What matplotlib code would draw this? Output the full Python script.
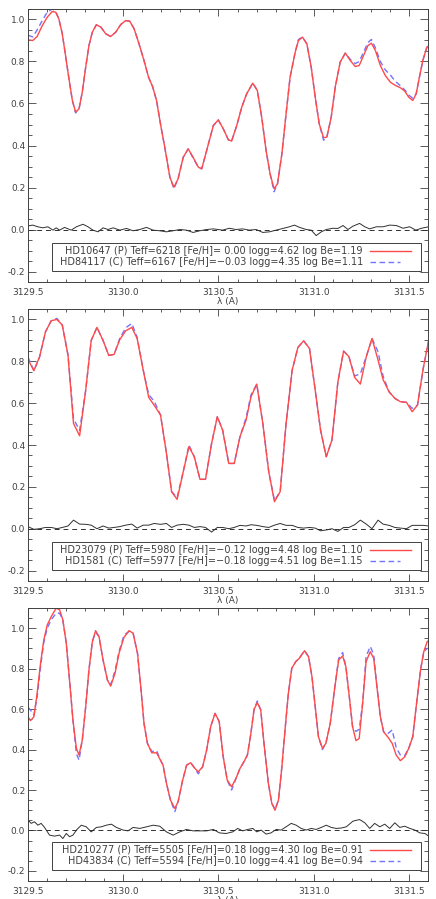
import matplotlib.pyplot as plt
import numpy as np

# ---------------- panel 1 ----------------
wl1 = [3129.500, 3129.525, 3129.548, 3129.575, 3129.601, 3129.627, 3129.645, 3129.662,
       3129.680, 3129.697, 3129.715, 3129.733, 3129.750, 3129.768, 3129.785, 3129.803,
       3129.820, 3129.838, 3129.859, 3129.882, 3129.908, 3129.934, 3129.961, 3129.987,
       3130.013, 3130.034, 3130.057, 3130.083, 3130.109, 3130.133, 3130.154, 3130.175,
       3130.197, 3130.218, 3130.245, 3130.266, 3130.288, 3130.315, 3130.341, 3130.367,
       3130.394, 3130.412, 3130.438, 3130.473, 3130.499, 3130.525, 3130.552, 3130.569,
       3130.596, 3130.622, 3130.648, 3130.680, 3130.704, 3130.727, 3130.750, 3130.771,
       3130.792, 3130.810, 3130.833, 3130.855, 3130.876, 3130.903, 3130.920, 3130.941,
       3130.964, 3130.987, 3131.008, 3131.029, 3131.052, 3131.069, 3131.092, 3131.113,
       3131.139, 3131.166, 3131.192, 3131.218, 3131.239, 3131.262, 3131.285, 3131.303,
       3131.324, 3131.350, 3131.376, 3131.403, 3131.429, 3131.455, 3131.478, 3131.499,
       3131.520, 3131.538, 3131.555, 3131.573, 3131.594, 3131.608]
p1 = [0.903, 0.900, 0.919, 0.971, 1.011, 1.038, 1.035, 1.003,
      0.932, 0.829, 0.718, 0.614, 0.559, 0.575, 0.654, 0.773,
      0.876, 0.940, 0.975, 0.964, 0.932, 0.919, 0.940, 0.976,
      0.995, 0.992, 0.956, 0.884, 0.805, 0.725, 0.681, 0.614,
      0.495, 0.392, 0.249, 0.201, 0.241, 0.344, 0.384, 0.344,
      0.297, 0.289, 0.376, 0.495, 0.522, 0.480, 0.427, 0.421,
      0.495, 0.582, 0.646, 0.697, 0.662, 0.535, 0.376, 0.265,
      0.194, 0.218, 0.360, 0.551, 0.725, 0.845, 0.900, 0.916,
      0.884, 0.773, 0.630, 0.503, 0.437, 0.440, 0.535, 0.678,
      0.797, 0.840, 0.805, 0.776, 0.781, 0.829, 0.876, 0.887,
      0.852, 0.781, 0.733, 0.701, 0.686, 0.675, 0.659, 0.630,
      0.614, 0.646, 0.725, 0.805, 0.868, 0.876]
c1 = [0.925, 0.917, 0.950, 0.995, 1.035, 1.050, 1.040, 1.003,
      0.932, 0.829, 0.718, 0.614, 0.555, 0.575, 0.654, 0.773,
      0.876, 0.940, 0.975, 0.964, 0.932, 0.919, 0.940, 0.976,
      0.995, 0.992, 0.956, 0.884, 0.805, 0.725, 0.681, 0.614,
      0.495, 0.392, 0.249, 0.195, 0.241, 0.344, 0.384, 0.340,
      0.297, 0.289, 0.376, 0.495, 0.522, 0.480, 0.427, 0.421,
      0.495, 0.582, 0.646, 0.697, 0.662, 0.535, 0.376, 0.265,
      0.180, 0.218, 0.360, 0.551, 0.725, 0.845, 0.905, 0.916,
      0.884, 0.773, 0.630, 0.503, 0.425, 0.440, 0.535, 0.678,
      0.797, 0.840, 0.810, 0.790, 0.800, 0.845, 0.890, 0.905,
      0.865, 0.800, 0.760, 0.735, 0.705, 0.685, 0.665, 0.640,
      0.625, 0.646, 0.725, 0.805, 0.868, 0.876]
rwl1 = [3129.500, 3129.525, 3129.552, 3129.578, 3129.604, 3129.631, 3129.648, 3129.666,
        3129.692, 3129.727, 3129.754, 3129.789, 3129.815, 3129.841, 3129.868, 3129.894,
        3129.920, 3129.947, 3129.982, 3130.017, 3130.052, 3130.087, 3130.122, 3130.157,
        3130.192, 3130.227, 3130.262, 3130.297, 3130.332, 3130.367, 3130.402, 3130.438,
        3130.473, 3130.522, 3130.557, 3130.592, 3130.627, 3130.662, 3130.698, 3130.733,
        3130.768, 3130.803, 3130.838, 3130.873, 3130.899, 3130.926, 3130.961, 3130.987,
        3131.013, 3131.040, 3131.066, 3131.101, 3131.127, 3131.154, 3131.180, 3131.206,
        3131.241, 3131.268, 3131.294, 3131.329, 3131.364, 3131.399, 3131.434, 3131.469,
        3131.504, 3131.536, 3131.566, 3131.604]
res1 = [0.017, 0.021, 0.013, 0.008, 0.013, -0.003, 0.008, -0.003,
        0.010, -0.003, 0.013, 0.025, 0.013, -0.003, -0.011, 0.008,
        0.000, 0.008, -0.003, 0.005, -0.006, 0.000, 0.010, -0.003,
        -0.006, -0.011, -0.006, 0.000, -0.003, -0.014, -0.006, 0.000,
        0.003, -0.003, 0.006, 0.000, 0.003, -0.003, 0.000, -0.014,
        -0.011, -0.003, 0.005, 0.013, 0.021, 0.010, 0.000, -0.003,
        -0.029, -0.011, 0.000, 0.006, 0.005, 0.019, 0.000, 0.016,
        0.029, 0.013, 0.003, 0.013, 0.013, 0.021, 0.019, 0.006,
        0.013, -0.003, 0.006, 0.013]

# ---------------- panel 2 ----------------
wl2 = [3129.500, 3129.531, 3129.561, 3129.592, 3129.622, 3129.652, 3129.680, 3129.710,
       3129.739, 3129.771, 3129.803, 3129.832, 3129.862, 3129.894, 3129.924, 3129.952,
       3129.982, 3130.013, 3130.045, 3130.073, 3130.105, 3130.134, 3130.162, 3130.196,
       3130.227, 3130.254, 3130.283, 3130.315, 3130.345, 3130.373, 3130.403, 3130.432,
       3130.464, 3130.494, 3130.522, 3130.554, 3130.583, 3130.613, 3130.645, 3130.671,
       3130.701, 3130.733, 3130.764, 3130.794, 3130.824, 3130.855, 3130.887, 3130.917,
       3130.947, 3130.978, 3131.008, 3131.036, 3131.066, 3131.096, 3131.127, 3131.157,
       3131.185, 3131.215, 3131.245, 3131.276, 3131.306, 3131.338, 3131.364, 3131.396,
       3131.426, 3131.455, 3131.487, 3131.517, 3131.545, 3131.575, 3131.604]
p2 = [0.809, 0.755, 0.822, 0.941, 0.994, 1.000, 0.973, 0.830,
      0.503, 0.444, 0.662, 0.900, 0.962, 0.900, 0.828, 0.833,
      0.904, 0.946, 0.962, 0.909, 0.758, 0.627, 0.591, 0.543,
      0.360, 0.177, 0.140, 0.272, 0.392, 0.344, 0.236, 0.236,
      0.408, 0.535, 0.471, 0.312, 0.312, 0.440, 0.519, 0.631,
      0.691, 0.503, 0.272, 0.129, 0.177, 0.503, 0.758, 0.866,
      0.898, 0.861, 0.662, 0.471, 0.344, 0.424, 0.702, 0.849,
      0.822, 0.723, 0.691, 0.822, 0.909, 0.806, 0.713, 0.654,
      0.623, 0.607, 0.604, 0.559, 0.591, 0.766, 0.901]
c2 = [0.820, 0.755, 0.822, 0.941, 0.994, 1.005, 0.973, 0.830,
      0.525, 0.470, 0.662, 0.900, 0.962, 0.900, 0.828, 0.833,
      0.910, 0.960, 0.981, 0.915, 0.758, 0.640, 0.610, 0.543,
      0.360, 0.177, 0.150, 0.272, 0.400, 0.344, 0.236, 0.236,
      0.408, 0.535, 0.471, 0.312, 0.312, 0.440, 0.530, 0.640,
      0.691, 0.503, 0.272, 0.135, 0.177, 0.503, 0.758, 0.866,
      0.898, 0.861, 0.662, 0.471, 0.344, 0.424, 0.702, 0.849,
      0.822, 0.730, 0.740, 0.822, 0.909, 0.845, 0.730, 0.654,
      0.623, 0.607, 0.604, 0.575, 0.591, 0.766, 0.901]
res2 = [0.010, -0.003, 0.000, 0.006, 0.006, 0.000, 0.006, 0.013,
        0.041, 0.022, 0.021, 0.017, 0.000, 0.013, 0.003, 0.006,
        0.010, 0.017, 0.022, 0.003, 0.017, 0.017, 0.025, 0.021,
        0.025, 0.006, 0.017, 0.021, 0.017, 0.006, 0.010, 0.006,
        -0.016, 0.006, 0.006, 0.000, 0.006, 0.016, 0.013, 0.019,
        0.016, 0.010, 0.006, 0.017, 0.025, 0.016, 0.016, 0.006,
        0.003, 0.006, 0.003, -0.010, -0.006, 0.000, -0.013, 0.006,
        0.006, 0.019, 0.041, 0.022, 0.000, 0.041, 0.022, 0.016,
        0.006, 0.003, 0.000, 0.016, 0.016, 0.016, 0.013]

# ---------------- panel 3 ----------------
wl3 = [3129.500, 3129.513, 3129.531, 3129.548, 3129.566, 3129.583, 3129.601, 3129.624,
       3129.648, 3129.666, 3129.683, 3129.701, 3129.718, 3129.736, 3129.754, 3129.768,
       3129.785, 3129.803, 3129.820, 3129.838, 3129.855, 3129.873, 3129.894, 3129.917,
       3129.934, 3129.957, 3129.978, 3130.004, 3130.031, 3130.052, 3130.075, 3130.092,
       3130.109, 3130.127, 3130.150, 3130.175, 3130.197, 3130.209, 3130.227, 3130.248,
       3130.271, 3130.288, 3130.312, 3130.333, 3130.354, 3130.376, 3130.394, 3130.417,
       3130.438, 3130.459, 3130.482, 3130.504, 3130.525, 3130.546, 3130.569, 3130.592,
       3130.613, 3130.634, 3130.652, 3130.669, 3130.687, 3130.704, 3130.722, 3130.739,
       3130.762, 3130.780, 3130.797, 3130.815, 3130.833, 3130.851, 3130.867, 3130.885,
       3130.906, 3130.924, 3130.952, 3130.973, 3130.991, 3131.008, 3131.025, 3131.046,
       3131.064, 3131.087, 3131.109, 3131.131, 3131.152, 3131.169, 3131.187, 3131.204,
       3131.222, 3131.239, 3131.257, 3131.275, 3131.297, 3131.315, 3131.332, 3131.350,
       3131.367, 3131.391, 3131.412, 3131.433, 3131.455, 3131.478, 3131.499, 3131.520,
       3131.538, 3131.561, 3131.578, 3131.596, 3131.608]
p3 = [0.562, 0.543, 0.562, 0.678, 0.827, 0.942, 1.016, 1.061,
      1.099, 1.091, 1.041, 0.926, 0.744, 0.546, 0.406, 0.373,
      0.447, 0.612, 0.794, 0.934, 0.988, 0.958, 0.843, 0.744,
      0.714, 0.777, 0.876, 0.955, 0.988, 0.975, 0.876, 0.711,
      0.530, 0.431, 0.384, 0.384, 0.345, 0.323, 0.233, 0.150,
      0.109, 0.142, 0.249, 0.323, 0.335, 0.307, 0.290, 0.315,
      0.398, 0.513, 0.579, 0.538, 0.364, 0.249, 0.216, 0.257,
      0.307, 0.340, 0.373, 0.472, 0.599, 0.632, 0.596, 0.431,
      0.233, 0.134, 0.100, 0.150, 0.315, 0.513, 0.678, 0.802,
      0.835, 0.851, 0.889, 0.859, 0.760, 0.612, 0.463, 0.406,
      0.431, 0.530, 0.695, 0.843, 0.863, 0.810, 0.661, 0.513,
      0.444, 0.455, 0.629, 0.835, 0.884, 0.851, 0.711, 0.562,
      0.488, 0.460, 0.431, 0.373, 0.345, 0.364, 0.406, 0.463,
      0.612, 0.794, 0.884, 0.934, 0.942]
c3 = [0.610, 0.595, 0.570, 0.660, 0.810, 0.930, 1.000, 1.045,
      1.074, 1.074, 1.040, 0.926, 0.744, 0.546, 0.380, 0.348,
      0.447, 0.612, 0.794, 0.934, 0.980, 0.958, 0.843, 0.744,
      0.720, 0.790, 0.885, 0.965, 0.985, 0.975, 0.876, 0.711,
      0.530, 0.431, 0.390, 0.395, 0.345, 0.323, 0.233, 0.150,
      0.093, 0.142, 0.249, 0.323, 0.335, 0.307, 0.280, 0.315,
      0.398, 0.513, 0.579, 0.538, 0.364, 0.249, 0.200, 0.257,
      0.307, 0.340, 0.373, 0.472, 0.599, 0.640, 0.596, 0.431,
      0.233, 0.134, 0.105, 0.150, 0.315, 0.513, 0.678, 0.802,
      0.835, 0.851, 0.889, 0.859, 0.760, 0.612, 0.463, 0.400,
      0.431, 0.530, 0.695, 0.850, 0.880, 0.810, 0.661, 0.513,
      0.490, 0.500, 0.629, 0.860, 0.910, 0.870, 0.711, 0.562,
      0.488, 0.480, 0.497, 0.410, 0.373, 0.370, 0.406, 0.463,
      0.612, 0.794, 0.884, 0.900, 0.900]
rwl3 = [3129.500, 3129.517, 3129.534, 3129.552, 3129.569, 3129.587, 3129.613, 3129.639,
        3129.666, 3129.683, 3129.701, 3129.718, 3129.736, 3129.757, 3129.780, 3129.806,
        3129.832, 3129.859, 3129.885, 3129.911, 3129.938, 3129.964, 3129.999, 3130.025,
        3130.052, 3130.087, 3130.122, 3130.157, 3130.192, 3130.227, 3130.262, 3130.297,
        3130.332, 3130.367, 3130.402, 3130.438, 3130.473, 3130.505, 3130.540, 3130.575,
        3130.601, 3130.627, 3130.654, 3130.680, 3130.701, 3130.724, 3130.750, 3130.776,
        3130.803, 3130.829, 3130.855, 3130.882, 3130.908, 3130.934, 3130.961, 3130.987,
        3131.013, 3131.040, 3131.066, 3131.092, 3131.119, 3131.145, 3131.171, 3131.206,
        3131.241, 3131.268, 3131.294, 3131.320, 3131.347, 3131.373, 3131.399, 3131.426,
        3131.452, 3131.478, 3131.505, 3131.531, 3131.557, 3131.584, 3131.604]
res3 = [0.051, 0.035, 0.043, 0.026, 0.035, 0.015, -0.023, -0.028,
        -0.023, -0.040, -0.015, -0.031, -0.023, 0.005, 0.026, 0.018,
        -0.007, 0.015, 0.018, 0.026, 0.031, 0.015, 0.002, -0.002,
        0.015, 0.010, 0.018, 0.026, 0.021, -0.007, -0.023, -0.007,
        0.005, -0.002, -0.002, -0.002, 0.005, -0.012, -0.015, -0.007,
        0.010, -0.002, 0.005, 0.010, -0.007, 0.002, -0.018, -0.012,
        0.005, 0.002, 0.018, 0.035, 0.026, 0.010, 0.002, 0.010,
        0.005, 0.015, 0.026, 0.015, 0.010, 0.012, 0.018, 0.046,
        0.054, 0.038, 0.010, 0.035, 0.018, 0.031, 0.010, 0.038,
        0.015, 0.021, 0.010, 0.002, -0.012, -0.015, -0.028]

labels_p = ['HD10647 (P) Teff=6218 [Fe/H]= 0.00 logg=4.62 log Be=1.19',
            'HD23079 (P) Teff=5980 [Fe/H]=\u22120.12 logg=4.48 log Be=1.10',
            'HD210277 (P) Teff=5505 [Fe/H]=0.18 logg=4.30 log Be=0.91']
labels_c = ['HD84117 (C) Teff=6167 [Fe/H]=\u22120.03 logg=4.35 log Be=1.11',
            'HD1581 (C) Teff=5977 [Fe/H]=\u22120.18 logg=4.51 log Be=1.15',
            'HD43834 (C) Teff=5594 [Fe/H]=0.10 logg=4.41 log Be=0.94']
ytops = [1.05, 1.05, 1.10]

RED = '#ff4a4a'
BLUE = '#7373ff'
GREY = '#404040'

plt.rcParams['font.family'] = ['DejaVu Sans']
plt.rcParams['font.size'] = 6.5

fig = plt.figure(figsize=(4.36, 8.99), dpi=100)
boxes = [[0.0642, 0.6863, 0.9174, 0.3037],
         [0.0642, 0.3537, 0.9174, 0.3026],
         [0.0642, 0.0200, 0.9174, 0.3037]]

panels = [(wl1, p1, c1, rwl1, res1), (wl2, p2, c2, wl2, res2), (wl3, p3, c3, rwl3, res3)]

for i, (wl, p, c, rwl, res) in enumerate(panels):
    ax = fig.add_axes(boxes[i])
    ax.plot(wl, c, color=BLUE, lw=1.0, dashes=(4, 2.5))
    ax.plot(wl, p, color=RED, lw=1.0)
    ax.plot(rwl, res, color='#303030', lw=0.7)
    ax.axhline(0.0, color='#303030', lw=0.7, dashes=(5, 4))

    ax.set_xlim(3129.5, 3131.6)
    ax.set_ylim(-0.25, ytops[i])
    ax.set_xticks(np.arange(3129.5, 3131.51, 0.5))
    ax.set_xticks(np.arange(3129.5, 3131.61, 0.1), minor=True)
    ax.set_yticks(np.arange(-0.2, ytops[i] + 0.001, 0.2))
    ax.set_yticks(np.arange(-0.25, ytops[i] + 0.001, 0.05), minor=True)
    ax.xaxis.set_major_formatter(plt.FormatStrFormatter('%.1f'))
    ax.yaxis.set_major_formatter(plt.FormatStrFormatter('%.1f'))
    ax.tick_params(which='both', direction='in', top=True, right=True,
                   colors=GREY, labelcolor=GREY, width=0.6)
    ax.tick_params(axis='x', which='major', length=5, pad=4)
    ax.tick_params(axis='x', which='minor', length=2.5)
    ax.tick_params(axis='y', which='major', length=6, pad=2)
    ax.tick_params(axis='y', which='minor', length=3)
    for s in ax.spines.values():
        s.set_color(GREY)
        s.set_linewidth(0.7)
    ax.set_xlabel('\u03bb (A)', color=GREY, labelpad=0)

    # legend box drawn in axes fraction
    ax.add_patch(plt.Rectangle((0.06, 0.042), 0.9225, 0.10, transform=ax.transAxes,
                               fill=False, edgecolor=GREY, lw=0.7))
    ax.text(0.8375, 0.113, labels_p[i], transform=ax.transAxes, ha='right',
            va='center', color=GREY, fontsize=7)
    ax.text(0.8375, 0.073, labels_c[i], transform=ax.transAxes, ha='right',
            va='center', color=GREY, fontsize=7)
    ax.plot([0.855, 0.9575], [0.113, 0.113], transform=ax.transAxes, color=RED, lw=1.0)
    ax.plot([0.855, 0.93], [0.073, 0.073], transform=ax.transAxes, color=BLUE, lw=1.0,
            dashes=(4, 2.5))

fig.savefig('out.png', dpi=100)
